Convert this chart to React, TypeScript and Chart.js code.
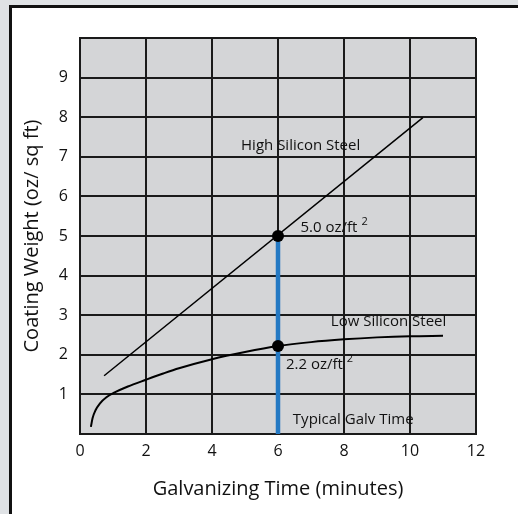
import { useEffect, useRef } from 'react';
import { Chart, registerables } from 'chart.js';

Chart.register(...registerables);

// ---- data ----
const highX = [0.73, 10.39];
const highY = [1.47, 7.99];

const lowX = [0.33, 0.38, 0.47, 0.6, 0.8, 1.05, 1.45, 2.0, 2.5, 3.0, 4.0, 5.0, 6.0, 7.0, 8.0, 9.0, 10.0, 11.0];
const lowY = [0.18, 0.4, 0.6, 0.77, 0.93, 1.05, 1.2, 1.37, 1.52, 1.66, 1.89, 2.07, 2.22, 2.32, 2.39, 2.44, 2.47, 2.48];

const galvTime = 6;
const markerY = [5.0, 2.22];

const xTicks = [0, 2, 4, 6, 8, 10, 12];
const yTicksShown = [1, 2, 3, 4, 5, 6, 7, 8, 9];

const noteTexts = ['High Silicon Steel', '5.0 oz/ft', 'Low Silicon Steel', '2.2 oz/ft', 'Typical Galv Time'];
const noteSup = ['', '2', '', '2', ''];
const noteX = [4.88, 6.68, 7.6, 6.24, 6.45];
const noteY = [7.27, 5.2, 2.83, 1.74, 0.35];

const FONT = "'Open Sans', 'Noto Sans', sans-serif";

const bgPlugin = {
  id: 'plotBg',
  beforeDraw(chart: any) {
    const { ctx, chartArea } = chart;
    ctx.save();
    ctx.fillStyle = '#d4d5d7';
    ctx.fillRect(chartArea.left, chartArea.top, chartArea.right - chartArea.left, chartArea.bottom - chartArea.top);
    ctx.restore();
  },
};

const notesPlugin = {
  id: 'notes',
  afterDatasetsDraw(chart: any) {
    const { ctx, scales } = chart;
    ctx.save();
    ctx.fillStyle = '#111';
    ctx.textBaseline = 'middle';
    ctx.textAlign = 'left';
    noteTexts.forEach((t, i) => {
      const px = scales.x.getPixelForValue(noteX[i]);
      const py = scales.y.getPixelForValue(noteY[i]);
      ctx.font = `15px ${FONT}`;
      ctx.fillText(t, px, py);
      if (noteSup[i]) {
        const w = ctx.measureText(t).width;
        ctx.font = `11px ${FONT}`;
        ctx.fillText(noteSup[i], px + w + 4, py - 6);
      }
    });
    ctx.restore();
  },
};

export default function App() {
  const ref = useRef<HTMLCanvasElement>(null);

  useEffect(() => {
    if (!ref.current) return;
    const chart = new Chart(ref.current, {
      type: 'scatter',
      data: {
        datasets: [
          {
            label: 'points',
            data: markerY.map((y) => ({ x: galvTime, y })),
            showLine: false,
            pointRadius: 6,
            pointBackgroundColor: '#000',
            pointBorderColor: '#000',
            pointBorderWidth: 0,
          },
          {
            label: 'Typical Galv Time',
            data: [
              { x: galvTime, y: 0 },
              { x: galvTime, y: markerY[0] },
            ],
            showLine: true,
            borderColor: '#2479c3',
            borderWidth: 4.5,
            pointRadius: 0,
          },
          {
            label: 'High Silicon Steel',
            data: highX.map((x, i) => ({ x, y: highY[i] })),
            showLine: true,
            borderColor: '#000',
            borderWidth: 1.5,
            pointRadius: 0,
          },
          {
            label: 'Low Silicon Steel',
            data: lowX.map((x, i) => ({ x, y: lowY[i] })),
            showLine: true,
            borderColor: '#000',
            borderWidth: 2,
            pointRadius: 0,
            cubicInterpolationMode: 'monotone',
          },
        ],
      },
      options: {
        responsive: false,
        animation: false,
        layout: { padding: { left: 0, right: 42, top: 38, bottom: 0 } },
        plugins: {
          legend: { display: false },
          tooltip: { enabled: false },
        },
        scales: {
          x: {
            type: 'linear',
            min: 0,
            max: 12,
            afterFit: (s: any) => {
              s.height = 80;
            },
            afterBuildTicks: (s: any) => {
              s.ticks = xTicks.map((v) => ({ value: v }));
            },
            ticks: {
              padding: 8,
              color: '#111',
              font: { family: FONT, size: 16 },
              maxRotation: 0,
            },
            grid: { color: '#1a1a1a', lineWidth: 2, drawTicks: false },
            border: { display: true, color: '#1a1a1a', width: 2 },
            title: {
              display: true,
              text: 'Galvanizing Time (minutes)',
              color: '#111',
              font: { family: FONT, size: 20 },
              padding: { top: 0, bottom: 13 },
            },
          },
          y: {
            type: 'linear',
            min: 0,
            max: 10,
            afterFit: (s: any) => {
              s.width = 80;
            },
            ticks: {
              stepSize: 1,
              padding: 12,
              color: '#111',
              font: { family: FONT, size: 16 },
              callback: (v: any) => (yTicksShown.includes(Number(v)) ? String(v) : ''),
            },
            grid: { color: '#1a1a1a', lineWidth: 2, drawTicks: false },
            border: { display: true, color: '#1a1a1a', width: 2 },
            title: {
              display: true,
              text: 'Coating Weight (oz/ sq ft)',
              color: '#111',
              font: { family: FONT, size: 20 },
              padding: { top: 20, bottom: 0 },
            },
          },
        },
      },
      plugins: [bgPlugin, notesPlugin],
    } as any);
    return () => chart.destroy();
  }, []);

  return (
    <div
      style={{
        position: 'fixed',
        left: 0,
        top: 0,
        width: 518,
        height: 514,
        background: '#dfe2e5',
        overflow: 'hidden',
      }}
    >
      <div
        style={{
          position: 'absolute',
          left: 9,
          top: 5,
          width: 530,
          height: 530,
          background: '#fff',
          borderLeft: '3px solid #111',
          borderTop: '3px solid #111',
        }}
      />
      <canvas
        ref={ref}
        width={518}
        height={514}
        style={{ position: 'absolute', left: 0, top: 0, width: 518, height: 514 }}
      />
    </div>
  );
}
